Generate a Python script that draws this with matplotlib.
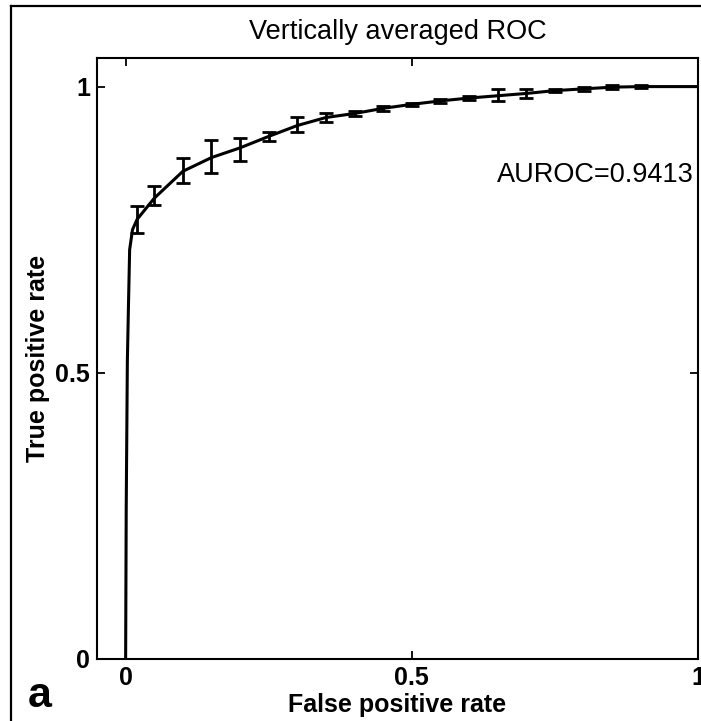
import matplotlib
matplotlib.use("Agg")
import matplotlib.pyplot as plt
from matplotlib.lines import Line2D

plt.rcParams['font.family'] = ['Liberation Sans', 'DejaVu Sans']

# curva media (promedio vertical)
fpr = [0.0, 0.001, 0.003, 0.005, 0.007, 0.012, 0.02, 0.05, 0.10, 0.15, 0.20,
       0.25, 0.30, 0.35, 0.40, 0.45, 0.50, 0.55, 0.60, 0.65, 0.70, 0.75,
       0.80, 0.85, 0.90, 1.0]
tpr = [0.0, 0.26, 0.52, 0.62, 0.715, 0.75, 0.768, 0.805, 0.852, 0.876, 0.893,
       0.913, 0.932, 0.946, 0.953, 0.962, 0.969, 0.975, 0.980, 0.984, 0.988,
       0.993, 0.996, 0.999, 1.0, 1.0]

# barras de error
fpr_bar = [0.02, 0.05, 0.10, 0.15, 0.20, 0.25, 0.30, 0.35, 0.40, 0.45, 0.50,
           0.55, 0.60, 0.65, 0.70, 0.75, 0.80, 0.85, 0.90]
tpr_bar = [0.768, 0.81, 0.853, 0.878, 0.89, 0.913, 0.933, 0.946, 0.953, 0.962,
           0.969, 0.975, 0.980, 0.985, 0.988, 0.993, 0.996, 0.999, 1.0]
err_bar = [0.024, 0.017, 0.022, 0.029, 0.02, 0.008, 0.013, 0.008, 0.005, 0.004,
           0.003, 0.004, 0.004, 0.01, 0.008, 0.003, 0.003, 0.003, 0.003]

auroc = 0.9413

fig = plt.figure(figsize=(7.01, 7.21), dpi=100)
ax = fig.add_axes([0.1384, 0.0860, 0.8573, 0.8336])

ax.plot(fpr, tpr, color='black', linewidth=2.2)
ax.errorbar(fpr_bar, tpr_bar, yerr=err_bar, fmt='none', ecolor='black',
            elinewidth=2.0, capsize=4.7, capthick=2.0)

ax.set_xlim(-0.05, 1.0)
ax.set_ylim(0, 1.05)
ax.set_xticks([0, 0.5, 1])
ax.set_xticklabels(['0', '0.5', '1'])
ax.set_yticks([0, 0.5, 1])
ax.set_yticklabels(['0', '0.5', '1'])
ax.tick_params(direction='in', length=6, width=1.3, top=True, right=True,
               labelsize=18, pad=5)
for lab in ax.get_xticklabels() + ax.get_yticklabels():
    lab.set_fontweight('bold')
for s in ax.spines.values():
    s.set_linewidth(1.5)

ax.set_title('Vertically averaged ROC', fontsize=19.5, pad=14)
ax.set_xlabel('False positive rate', fontsize=18, fontweight='bold', labelpad=2)
ax.set_ylabel('True positive rate', fontsize=18, fontweight='bold', labelpad=4)

ax.text(0.993, 0.834, 'AUROC=%.4f' % auroc, fontsize=19.5, ha='right',
        va='baseline')

fig.text(0.040, 0.0194, 'a', fontsize=31, fontweight='bold', ha='left',
         va='baseline')

# marco exterior de la figura
fig.add_artist(Line2D([11/701, 11/701], [0, 1 - 6/721], color='black',
                      linewidth=1.6, transform=fig.transFigure))
fig.add_artist(Line2D([11/701, 1], [1 - 6/721, 1 - 6/721], color='black',
                      linewidth=1.6, transform=fig.transFigure))

fig.savefig('out.png', dpi=100)
